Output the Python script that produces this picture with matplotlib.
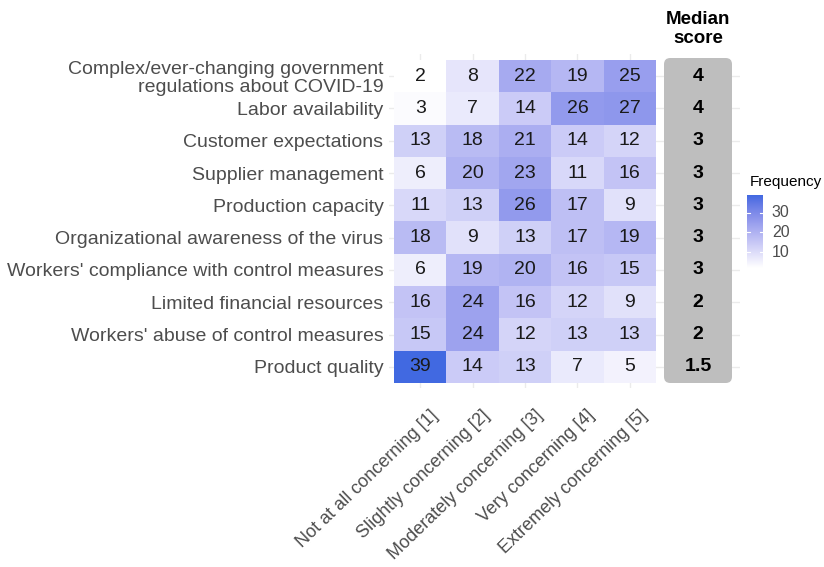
import numpy as np
import matplotlib
matplotlib.use("Agg")
import matplotlib.pyplot as plt
from matplotlib.colors import ListedColormap, Normalize, to_rgb
from matplotlib.patches import FancyBboxPatch
from matplotlib.transforms import offset_copy

plt.rcParams['font.family'] = ['Liberation Sans', 'DejaVu Sans']

# ---------------- data ----------------
factors = [
    "Complex/ever-changing government\nregulations about COVID-19",
    "Labor availability",
    "Customer expectations",
    "Supplier management",
    "Production capacity",
    "Organizational awareness of the virus",
    "Workers' compliance with control measures",
    "Limited financial resources",
    "Workers' abuse of control measures",
    "Product quality",
]
levels = [
    "Not at all concerning [1]",
    "Slightly concerning [2]",
    "Moderately concerning [3]",
    "Very concerning [4]",
    "Extremely concerning [5]",
]
freq_not_at_all = [2, 3, 13, 6, 11, 18, 6, 16, 15, 39]
freq_slightly = [8, 7, 18, 20, 13, 9, 19, 24, 24, 14]
freq_moderately = [22, 14, 21, 23, 26, 13, 20, 16, 12, 13]
freq_very = [19, 26, 14, 11, 17, 17, 16, 12, 13, 7]
freq_extremely = [25, 27, 12, 16, 9, 19, 15, 9, 13, 5]
median_score = ["4", "4", "3", "3", "3", "3", "3", "2", "2", "1.5"]
legend_ticks = [10, 20, 30]

data = np.array([freq_not_at_all, freq_slightly, freq_moderately,
                 freq_very, freq_extremely]).T  # rows = factors

# ---------------- Lab gradient (white -> royalblue) ----------------
WHITE_REF = np.array([0.95047, 1.0, 1.08883])
M = np.array([[0.4124564, 0.3575761, 0.1804375],
              [0.2126729, 0.7151522, 0.0721750],
              [0.0193339, 0.1191920, 0.9503041]])
Minv = np.linalg.inv(M)
d = 6 / 29


def rgb2lab(rgb):
    c = np.asarray(rgb, float)
    lin = np.where(c <= 0.04045, c / 12.92, ((c + 0.055) / 1.055) ** 2.4)
    xyz = M @ lin / WHITE_REF
    f = np.where(xyz > d ** 3, np.cbrt(xyz), xyz / (3 * d * d) + 4 / 29)
    return np.array([116 * f[1] - 16, 500 * (f[0] - f[1]), 200 * (f[1] - f[2])])


def lab2rgb(lab):
    L, a, b = lab
    fy = (L + 16) / 116
    fx = fy + a / 500
    fz = fy - b / 200
    f = np.array([fx, fy, fz])
    xyz = np.where(f > d, f ** 3, 3 * d * d * (f - 4 / 29)) * WHITE_REF
    lin = Minv @ xyz
    lin = np.clip(lin, 0, 1)
    c = np.where(lin <= 0.0031308, 12.92 * lin, 1.055 * lin ** (1 / 2.4) - 0.055)
    return np.clip(c, 0, 1)


lab_lo = rgb2lab(to_rgb("white"))
lab_hi = rgb2lab(to_rgb("royalblue"))
cols = [lab2rgb(lab_lo + t * (lab_hi - lab_lo)) for t in np.linspace(0, 1, 256)]
cmap = ListedColormap(cols)
norm = Normalize(vmin=data.min(), vmax=data.max())

# ---------------- figure ----------------
W, H = 824, 567
fig = plt.figure(figsize=(W / 100, H / 100), dpi=100)

ux, uy = 52.4, 32.3          # pixels per column / row
left_px, top_px = 394, 60    # heatmap edge
ax_l, ax_r, ax_t, ax_b = 389, 740, 54, 388
ax = fig.add_axes([ax_l / W, 1 - ax_b / H, (ax_r - ax_l) / W, (ax_b - ax_t) / H])
ax.set_xlim(-0.5 - (left_px - ax_l) / ux, -0.5 + (ax_r - left_px) / ux)
ax.set_ylim(9.5 + (ax_b - 383) / uy, -0.5 - (top_px - ax_t) / uy)

nrow, ncol = data.shape
ax.pcolormesh(np.arange(ncol + 1) - 0.5, np.arange(nrow + 1) - 0.5, data,
              cmap=cmap, norm=norm, zorder=2)
for i in range(nrow):
    for j in range(ncol):
        ax.text(j, i, str(data[i, j]), ha="center", va="center",
                fontsize=14, color="#1a1a1a", zorder=3)

# median box
bx0 = (664 - left_px) / ux - 0.5
bx1 = (732 - left_px) / ux - 0.5
by0 = (58 - top_px) / uy - 0.5
by1 = 9.5
box = FancyBboxPatch((bx0, by0), bx1 - bx0, by1 - by0,
                     boxstyle="round,pad=0,rounding_size=0.12",
                     mutation_aspect=ux / uy, facecolor="#BEBEBE",
                     edgecolor="none", zorder=2)
ax.add_patch(box)
bxc = (bx0 + bx1) / 2
for i, m in enumerate(median_score):
    ax.text(bxc, i, m, ha="center", va="center", fontsize=14,
            fontweight="bold", color="black", zorder=3)

fig.text(698 / W, 1 - 29 / H, "Median\nscore", ha="center", va="center",
         fontsize=13.5, fontweight="bold", linespacing=1.2)

# axes styling
for s in ax.spines.values():
    s.set_visible(False)
ax.set_yticks(range(nrow))
ax.set_yticklabels(factors, fontsize=14, color="#4D4D4D", linespacing=1.1)
ax.tick_params(axis="y", length=0, pad=4)
ax.set_xticks(range(ncol))
ax.set_xticklabels([])
ax.tick_params(axis="x", length=0)
ax.grid(True, color="#EBEBEB", linewidth=1.0, zorder=0)
ax.set_axisbelow(True)

tr = offset_copy(ax.transData, fig=fig, x=9, y=-24, units="dots")
for j, lab in enumerate(levels):
    ax.text(j, 9.5, lab, transform=tr, rotation=44, rotation_mode="anchor",
            ha="right", va="top", fontsize=13, color="#4D4D4D", clip_on=False)

# legend colorbar
cb_l, cb_r, cb_t, cb_b = 747, 763, 195, 268
cax = fig.add_axes([cb_l / W, 1 - cb_b / H, (cb_r - cb_l) / W, (cb_b - cb_t) / H])
grad = np.linspace(data.max(), data.min(), 200).reshape(-1, 1)
cax.imshow(grad, cmap=cmap, norm=norm, aspect="auto",
           extent=[0, 1, data.min(), data.max()])
cax.set_xlim(0, 1)
cax.set_ylim(data.min(), data.max())
for s in cax.spines.values():
    s.set_visible(False)
cax.set_xticks([])
cax.set_yticks([])
for t in legend_ticks:
    cax.plot([0, 0.2], [t, t], color="white", lw=0.8)
    cax.plot([0.8, 1], [t, t], color="white", lw=0.8)
    cax.text(1.55, t, str(t), ha="left", va="center", fontsize=11.5,
             color="#4D4D4D", transform=cax.transData, clip_on=False)
fig.text(750 / W, 1 - 182 / H, "Frequency", ha="left", va="center", fontsize=11)

fig.savefig("out.png", dpi=100)
